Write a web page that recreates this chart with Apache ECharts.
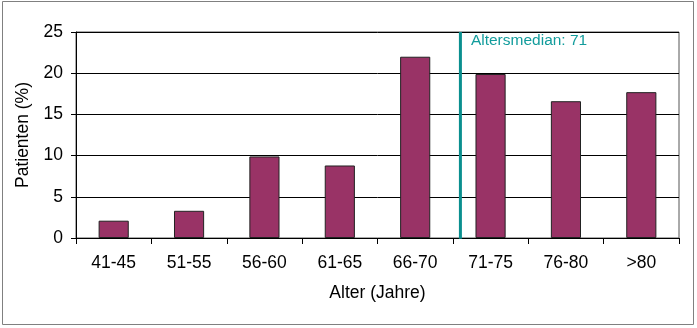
<!DOCTYPE html>
<html><head><meta charset="utf-8">
<script src="https://cdn.jsdelivr.net/npm/echarts@6/dist/echarts.min.js"></script>
<style>html,body{margin:0;padding:0;background:#fff}#c{width:697px;height:328px}</style>
</head><body><div id="c"></div>
<script>
const categories = ['41-45','51-55','56-60','61-65','66-70','71-75','76-80','>80'];
const patients = [2.1, 3.3, 9.9, 8.8, 22.0, 19.9, 16.6, 17.7];
const yTicks = [0,5,10,15,20,25];
const medianAge = 71;
const medianLabel = 'Altersmedian: 71';
// position of median on the category scale: 66-70 centre (68) = index 4, 5-year bins
const medianPos = 4 + (medianAge - 68) / 5;

const font = 'Liberation Sans, Arial, sans-serif';
const chart = echarts.init(document.getElementById('c'), null, {renderer:'canvas'});
chart.setOption({
  animation:false,
  backgroundColor:'#fff',
  graphic:[{type:'rect',shape:{x:2.5,y:1.5,width:691,height:323},style:{fill:'none',stroke:'#808080',lineWidth:1},silent:true}],
  grid:{left:76,right:18,top:32,bottom:90,show:true,borderColor:'#555',borderWidth:1,backgroundColor:'transparent'},
  xAxis:[{
    type:'category',data:categories,boundaryGap:true,
    name:'Alter (Jahre)',nameLocation:'middle',nameGap:46,
    nameTextStyle:{fontFamily:font,fontSize:17.5,color:'#000'},
    axisLine:{onZero:false,lineStyle:{color:'#000',width:1}},
    axisTick:{show:true,length:6,lineStyle:{color:'#000'},alignWithLabel:false},
    axisLabel:{fontFamily:font,fontSize:17.5,color:'#000',margin:16,interval:0},
    splitLine:{show:false}
  },{
    type:'value',min:-0.5,max:7.5,show:false,splitLine:{show:false}
  }],
  yAxis:{
    type:'value',min:yTicks[0],max:yTicks[yTicks.length-1],interval:5,
    name:'Patienten (%)',nameLocation:'middle',nameGap:41.5,nameRotate:90,
    nameTextStyle:{fontFamily:font,fontSize:17.5,color:'#000'},
    axisLine:{show:true,onZero:false,lineStyle:{color:'#000',width:1}},
    axisTick:{show:true,length:5,lineStyle:{color:'#000'}},
    axisLabel:{fontFamily:font,fontSize:17.5,color:'#000',margin:13},
    splitLine:{show:true,lineStyle:{color:'#000',width:1}}
  },
  series:[{
    type:'bar',data:patients,barWidth:'40%',
    itemStyle:{color:'#993366',borderColor:'#222',borderWidth:1}
  },{
    type:'line',xAxisIndex:1,yAxisIndex:0,
    data:[[medianPos,-0.1],{value:[medianPos,25],label:{show:true,formatter:medianLabel,position:'right',distance:10,offset:[0,9],color:'#129c9c',fontFamily:font,fontSize:15.5}}],
    lineStyle:{color:'#0a8f8f',width:3},
    symbol:'circle',symbolSize:1,itemStyle:{color:'rgba(0,0,0,0)'},
    z:5
  }]
});
</script></body></html>
